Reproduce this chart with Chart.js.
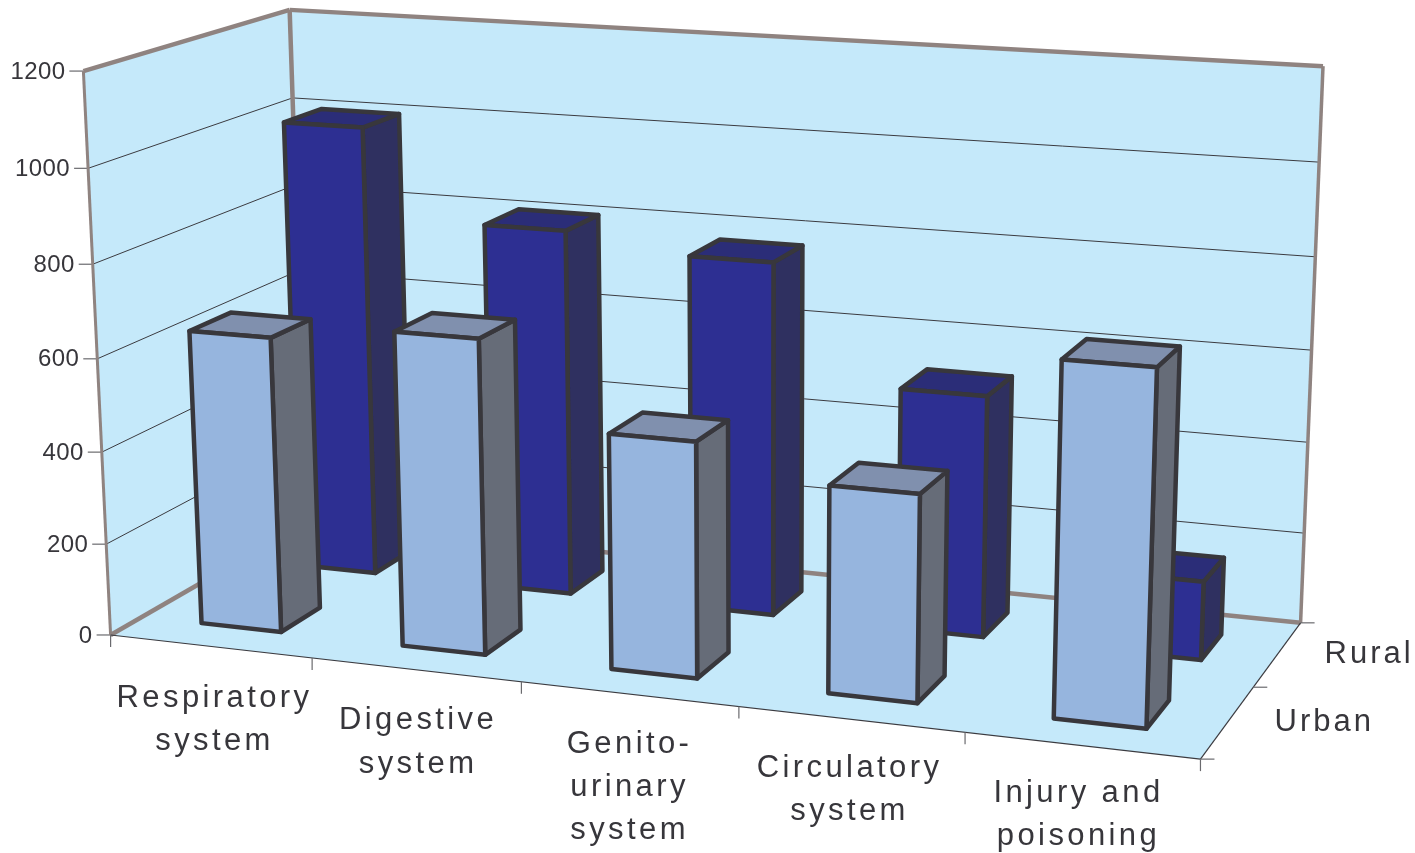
<!DOCTYPE html>
<html>
<head>
<meta charset="utf-8">
<title>Hospital admissions</title>
<script src="https://cdn.jsdelivr.net/npm/chart.js@4/dist/chart.umd.min.js"></script>
<style>
  html, body { margin: 0; background: #fff; }
  canvas { display: block; }
</style>
</head>
<body>
<canvas id="area" width="1415" height="853"></canvas>
<script>
var categories = [['Respiratory', 'system'], ['Digestive', 'system'], ['Genito-', 'urinary', 'system'], ['Circulatory', 'system'], ['Injury and', 'poisoning']];
var depthLabels = ['Urban', 'Rural'];
var urban = [640, 675, 500, 435, 730];
var rural = [1005, 810, 775, 525, 170];
var yMax = 1200;
var yStep = 200;

// corners of the box as [u, v, w] -> screen, used to fit the camera
// the front corner is listed twice so the fit holds it tighter
var boxCorners = [
  [0, 0, 0, 111, 636], [0, 0, 0, 111, 636], [1, 0, 0, 1200, 758], [1, 1, 0, 1301, 624], [0, 1, 0, 306, 520],
  [0, 0, 1, 83, 70], [0, 1, 1, 290, 11], [1, 1, 1, 1323, 66]
];

var TEXT = '#37363b';
var EDGE = '#8f8380';
var WALL = '#c5e9fa';
var OUTLINE = '#38373c';
var faces = {
  Urban: { front: '#96b5de', top: '#8090ae', side: '#666c78' },
  Rural: { front: '#2d2f92', top: '#2b2d78', side: '#2f3060' }
};

// least squares fit of a 3x4 projection matrix (last entry fixed to 1)
function fitCamera(pts) {
  var n = 11, A = [], i, j, k;
  for (i = 0; i < n; i++) { A.push(new Array(n + 1).fill(0)); }
  function addRow(r, b) {
    for (var a = 0; a < n; a++) {
      for (var c = 0; c < n; c++) { A[a][c] += r[a] * r[c]; }
      A[a][n] += r[a] * b;
    }
  }
  pts.forEach(function (p) {
    addRow([p[0], p[1], p[2], 1, 0, 0, 0, 0, -p[3] * p[0], -p[3] * p[1], -p[3] * p[2]], p[3]);
    addRow([0, 0, 0, 0, p[0], p[1], p[2], 1, -p[4] * p[0], -p[4] * p[1], -p[4] * p[2]], p[4]);
  });
  for (i = 0; i < n; i++) {
    var best = i;
    for (j = i + 1; j < n; j++) { if (Math.abs(A[j][i]) > Math.abs(A[best][i])) best = j; }
    var tmp = A[i]; A[i] = A[best]; A[best] = tmp;
    for (j = 0; j < n; j++) {
      if (j === i) continue;
      var f = A[j][i] / A[i][i];
      for (k = i; k <= n; k++) { A[j][k] -= f * A[i][k]; }
    }
  }
  return A.map(function (row, r) { return row[n] / row[r]; });
}
var cam = fitCamera(boxCorners);

function project(u, v, w) {
  var d = cam[8] * u + cam[9] * v + cam[10] * w + 1;
  return [(cam[0] * u + cam[1] * v + cam[2] * w + cam[3]) / d,
          (cam[4] * u + cam[5] * v + cam[6] * w + cam[7]) / d];
}

function poly(ctx, pts, fill) {
  ctx.beginPath();
  pts.forEach(function (p, i) { if (i) ctx.lineTo(p[0], p[1]); else ctx.moveTo(p[0], p[1]); });
  ctx.closePath();
  if (fill) { ctx.fillStyle = fill; ctx.fill(); }
}

function line(ctx, a, b, color, width) {
  ctx.beginPath();
  ctx.moveTo(a[0], a[1]);
  ctx.lineTo(b[0], b[1]);
  ctx.strokeStyle = color;
  ctx.lineWidth = width;
  ctx.stroke();
}

// flat 2d scales give the fractions, the camera places them on screen
function uOf(chart, px) { var a = chart.chartArea; return (px - a.left) / a.width; }
function wOf(chart, py) { var a = chart.chartArea; return (a.bottom - py) / a.height; }
function vOf(chart, py) { var a = chart.chartArea; return (py - a.top) / a.height; }

function drawBox(chart) {
  var ctx = chart.ctx, y = chart.scales.y;
  poly(ctx, [project(0, 1, 0), project(1, 1, 0), project(1, 1, 1), project(0, 1, 1)], WALL);
  poly(ctx, [project(0, 0, 0), project(0, 1, 0), project(0, 1, 1), project(0, 0, 1)], WALL);
  poly(ctx, [project(0, 0, 0), project(1, 0, 0), project(1, 1, 0), project(0, 1, 0)], WALL);

  y.ticks.forEach(function (t) {
    var w = wOf(chart, y.getPixelForValue(t.value));
    var a = project(0, 0, w), b = project(0, 1, w), c = project(1, 1, w);
    if (t.value > 0 && t.value < yMax) {
      line(ctx, a, b, '#3b3b40', 1);
      line(ctx, b, c, '#3b3b40', 1);
    }
    line(ctx, [a[0] - 14, a[1]], a, '#6a6a6e', 1.2);
    ctx.fillStyle = TEXT;
    ctx.font = '24px "Liberation Sans"';
    ctx.letterSpacing = '0.4px';
    ctx.textAlign = 'right';
    ctx.textBaseline = 'middle';
    ctx.fillText(String(t.value), a[0] - 18, a[1] + 1);
  });

  // heavy grey frame of the walls
  var frame = [
    [project(0, 0, 0), project(0, 0, 1), 3], [project(0, 0, 1), project(0, 1, 1), 4.5],
    [project(0, 1, 1), project(1, 1, 1), 4.5], [project(0, 1, 1), project(0, 1, 0), 4.5],
    [project(1, 1, 1), project(1, 1, 0), 3.5], [project(0, 0, 0), project(0, 1, 0), 4.5],
    [project(0, 1, 0), project(1, 1, 0), 4.5]
  ];
  frame.forEach(function (f) { line(ctx, f[0], f[1], EDGE, f[2]); });

  // front and right edges of the floor
  line(ctx, project(0, 0, 0), project(1, 0, 0), '#3b3b40', 1.2);
  line(ctx, project(1, 0, 0), project(1, 1, 0), '#3b3b40', 1.2);

  // category ticks and labels
  var x = chart.scales.x;
  for (var i = 0; i <= categories.length; i++) {
    var p = project(i / categories.length, 0, 0);
    line(ctx, p, [p[0], p[1] + 12], '#6a6a6e', 1.2);
  }
  ctx.font = '31px "Liberation Sans"';
  ctx.letterSpacing = '3.4px';
  ctx.textAlign = 'center';
  ctx.textBaseline = 'alphabetic';
  ctx.fillStyle = TEXT;
  categories.forEach(function (lines, i) {
    var u = uOf(chart, x.getPixelForValue(i));
    var p = project(u, 0, 0);
    lines.forEach(function (s, n) { ctx.fillText(s, p[0] + 5 - 9 * u, p[1] + 61 - 5 * u + n * 43.3); });
  });

  // depth ticks and labels
  var z = chart.scales.z;
  for (var d = 0; d <= depthLabels.length; d++) {
    var q = project(1, d / depthLabels.length, 0);
    line(ctx, q, [q[0] + 14, q[1]], '#6a6a6e', 1.2);
  }
  ctx.textAlign = 'left';
  ctx.letterSpacing = '3px';
  depthLabels.forEach(function (s, i) {
    var q = project(1, vOf(chart, z.getPixelForValue(i)), 0);
    ctx.fillText(s, q[0] + 47, q[1] + 9);
  });
  ctx.letterSpacing = '0px';
}

function drawBar(chart, bar, v0, v1, face) {
  var ctx = chart.ctx;
  var u0 = uOf(chart, bar.x - bar.width / 2), u1 = uOf(chart, bar.x + bar.width / 2);
  var w0 = wOf(chart, bar.base), w1 = wOf(chart, bar.y);
  ctx.lineJoin = 'round';
  ctx.lineWidth = 4.5;
  ctx.strokeStyle = OUTLINE;
  var sets = [
    [[[u1, v0, w0], [u1, v1, w0], [u1, v1, w1], [u1, v0, w1]], face.side],
    [[[u0, v0, w1], [u1, v0, w1], [u1, v1, w1], [u0, v1, w1]], face.top],
    [[[u0, v0, w0], [u1, v0, w0], [u1, v0, w1], [u0, v0, w1]], face.front]
  ];
  sets.forEach(function (s) {
    poly(ctx, s[0].map(function (c) { return project(c[0], c[1], c[2]); }), s[1]);
    ctx.stroke();
  });
}

var box3d = {
  id: 'box3d',
  beforeDatasetsDraw: function (chart) {
    drawBox(chart);
    var z = chart.scales.z, slot = z.height / depthLabels.length;
    // back row first so the urban bars sit in front
    for (var d = chart.data.datasets.length - 1; d >= 0; d--) {
      var ds = chart.data.datasets[d];
      var meta = chart.getDatasetMeta(d);
      var c = z.getPixelForValue(depthLabels.indexOf(ds.label));
      var half = slot * 0.2;
      var v0 = vOf(chart, c - half), v1 = vOf(chart, c + half);
      meta.data.forEach(function (bar) { drawBar(chart, bar, v0, v1, faces[ds.label]); });
    }
    return false; // bars are done, skip the flat ones
  }
};

new Chart(document.getElementById('area'), {
  type: 'bar',
  data: {
    labels: categories,
    datasets: [
      { label: 'Urban', data: urban },
      { label: 'Rural', data: rural }
    ]
  },
  options: {
    responsive: false,
    animation: false,
    grouped: false,
    barPercentage: 0.4,
    categoryPercentage: 1,
    layout: { padding: 0 },
    plugins: { legend: { display: false }, tooltip: { enabled: false } },
    scales: {
      x: { display: false },
      y: { display: false, min: 0, max: yMax, ticks: { stepSize: yStep } },
      z: { type: 'category', axis: 'y', display: false, labels: depthLabels, offset: true }
    }
  },
  plugins: [box3d]
});
</script>
</body>
</html>
